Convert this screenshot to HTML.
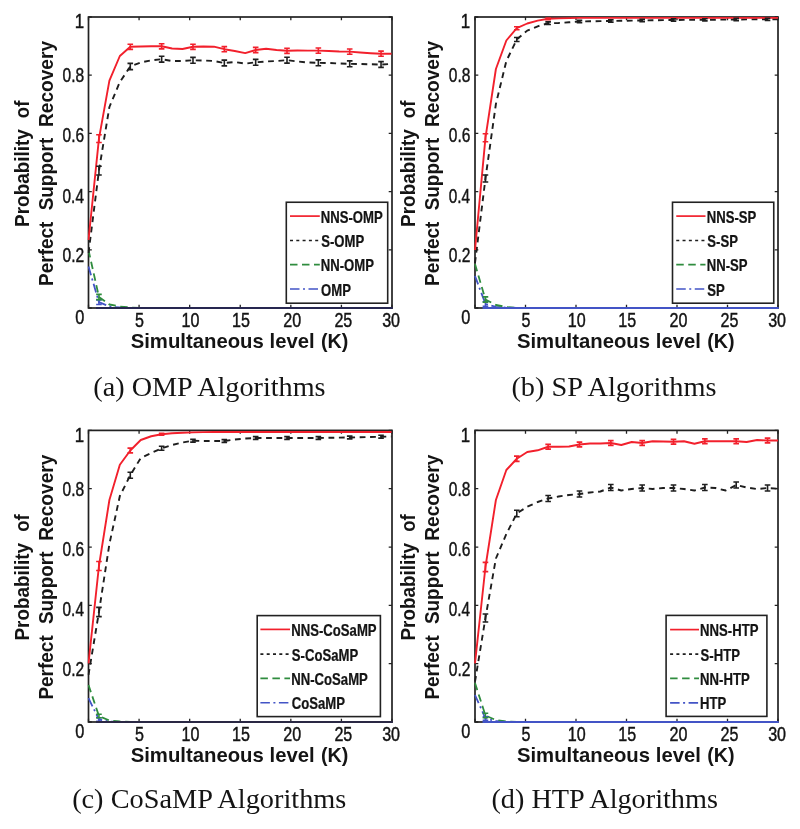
<!DOCTYPE html><html><head><meta charset="utf-8"><title>figure</title><style>html,body{margin:0;padding:0;background:#fff;overflow:hidden}svg{display:block;filter:blur(0.4px)}</style></head><body>
<svg width="800" height="829" viewBox="0 0 800 829">
<rect width="800" height="829" fill="#fff"/>
<rect x="88.5" y="17" width="303.5" height="291" fill="none" stroke="#222222" stroke-width="1.7"/>
<path d="M88.5,308v-3.3M88.5,17v3.3M139.08,308v-3.3M139.08,17v3.3M189.67,308v-3.3M189.67,17v3.3M240.25,308v-3.3M240.25,17v3.3M290.83,308v-3.3M290.83,17v3.3M341.42,308v-3.3M341.42,17v3.3M392,308v-3.3M392,17v3.3M88.5,308h3.3M392,308h-3.3M88.5,249.8h3.3M392,249.8h-3.3M88.5,191.6h3.3M392,191.6h-3.3M88.5,133.4h3.3M392,133.4h-3.3M88.5,75.2h3.3M392,75.2h-3.3M88.5,17h3.3M392,17h-3.3" stroke="#222222" stroke-width="1.3" fill="none"/>
<clipPath id="ca"><rect x="87.5" y="14" width="305.5" height="295"/></clipPath>
<g clip-path="url(#ca)" fill="none" stroke-linejoin="round">
<polyline points="88.5,266.5 98.95,302.2 109.4,306.5 119.84,307.5 130.29,308 140.74,308 151.19,308 161.64,308 172.08,308 182.53,308 192.98,308 203.43,308 213.88,308 224.32,308 234.77,308 245.22,308 255.67,308 266.12,308 276.56,308 287.01,308 297.46,308 307.91,308 318.36,308 328.8,308 339.25,308 349.7,308 360.15,308 370.6,308 381.04,308 391.49,308" stroke="#4354c6" stroke-width="1.8" stroke-dasharray="9 3.5 2 3.5"/>
<polyline points="88.5,250 98.95,297 109.4,304.5 119.84,306.5 130.29,307.5 140.74,308 151.19,308 161.64,308 172.08,308 182.53,308 192.98,308 203.43,308 213.88,308 224.32,308 234.77,308 245.22,308 255.67,308 266.12,308 276.56,308 287.01,308 297.46,308 307.91,308 318.36,308 328.8,308 339.25,308 349.7,308 360.15,308 370.6,308 381.04,308 391.49,308" stroke="#2f8c3e" stroke-width="1.8" stroke-dasharray="7.5 4.5"/>
<polyline points="88.5,253 98.95,170.6 109.4,107 119.84,82 130.29,66.5 140.74,62.5 151.19,60.3 161.64,59.2 172.08,61 182.53,61 192.98,60.3 203.43,60.5 213.88,61 224.32,63 234.77,62 245.22,63.7 255.67,62.3 266.12,61.5 276.56,61 287.01,60.2 297.46,61.5 307.91,62.5 318.36,62.8 328.8,63 339.25,63.5 349.7,63.8 360.15,64 370.6,64.3 381.04,64.5 391.49,64" stroke="#1e1e1e" stroke-width="1.9" stroke-dasharray="5.8 4.6"/>
<polyline points="88.5,240 98.95,138.6 109.4,80.6 119.84,56 130.29,46.8 140.74,46.5 151.19,46.2 161.64,46.3 172.08,48.5 182.53,49 192.98,46.8 203.43,46.5 213.88,46.7 224.32,49.2 234.77,51 245.22,53.1 255.67,50 266.12,48.8 276.56,50 287.01,50.8 297.46,50.5 307.91,50.6 318.36,50.6 328.8,51 339.25,51.5 349.7,51.6 360.15,52.5 370.6,53.2 381.04,53.7 391.49,53.7" stroke="#f2202c" stroke-width="1.9"/>
<path d="M98.95,299.9V304.5M96.15,299.9H101.75M96.15,304.5H101.75" stroke="#4354c6" stroke-width="1.6"/>
<path d="M98.95,294.4V299.6M96.15,294.4H101.75M96.15,299.6H101.75" stroke="#2f8c3e" stroke-width="1.6"/>
<path d="M98.95,166.2V175M96.15,166.2H101.75M96.15,175H101.75M130.29,63.4V69.6M127.49,63.4H133.09M127.49,69.6H133.09M161.64,56.3V62.1M158.84,56.3H164.44M158.84,62.1H164.44M192.98,57.4V63.2M190.18,57.4H195.78M190.18,63.2H195.78M224.32,60.1V65.9M221.52,60.1H227.12M221.52,65.9H227.12M255.67,59.4V65.2M252.87,59.4H258.47M252.87,65.2H258.47M287.01,57.3V63.1M284.21,57.3H289.81M284.21,63.1H289.81M318.36,59.9V65.7M315.56,59.9H321.16M315.56,65.7H321.16M349.7,60.9V66.7M346.9,60.9H352.5M346.9,66.7H352.5M381.04,61.6V67.4M378.24,61.6H383.84M378.24,67.4H383.84" stroke="#1e1e1e" stroke-width="1.6"/>
<path d="M98.95,134.7V142.5M96.15,134.7H101.75M96.15,142.5H101.75M130.29,44.2V49.4M127.49,44.2H133.09M127.49,49.4H133.09M161.64,43.7V48.9M158.84,43.7H164.44M158.84,48.9H164.44M192.98,44.2V49.4M190.18,44.2H195.78M190.18,49.4H195.78M224.32,46.6V51.8M221.52,46.6H227.12M221.52,51.8H227.12M255.67,47.4V52.6M252.87,47.4H258.47M252.87,52.6H258.47M287.01,48.2V53.4M284.21,48.2H289.81M284.21,53.4H289.81M318.36,48V53.2M315.56,48H321.16M315.56,53.2H321.16M349.7,49V54.2M346.9,49H352.5M346.9,54.2H352.5M381.04,51.1V56.3M378.24,51.1H383.84M378.24,56.3H383.84" stroke="#f2202c" stroke-width="1.6"/>
</g>
<line x1="96" y1="308" x2="392.8" y2="308" stroke="#262650" stroke-width="1.9"/>
<text transform="translate(74.63,28.3) scale(0.8274,1)" font-size="20.4" fill="#141414" stroke="#141414" stroke-width="0.45" style='font-family:"Liberation Sans",sans-serif'>1</text>
<text transform="translate(62.58,81.8) scale(0.7611,1)" font-size="20.4" fill="#141414" stroke="#141414" stroke-width="0.45" style='font-family:"Liberation Sans",sans-serif'>0.8</text>
<text transform="translate(62.58,141.9) scale(0.7611,1)" font-size="20.4" fill="#141414" stroke="#141414" stroke-width="0.45" style='font-family:"Liberation Sans",sans-serif'>0.6</text>
<text transform="translate(62.59,202.6) scale(0.7524,1)" font-size="20.4" fill="#141414" stroke="#141414" stroke-width="0.45" style='font-family:"Liberation Sans",sans-serif'>0.4</text>
<text transform="translate(62.58,262.4) scale(0.7655,1)" font-size="20.4" fill="#141414" stroke="#141414" stroke-width="0.45" style='font-family:"Liberation Sans",sans-serif'>0.2</text>
<text transform="translate(75.15,324.3) scale(0.8007,1)" font-size="20.4" fill="#141414" stroke="#141414" stroke-width="0.45" style='font-family:"Liberation Sans",sans-serif'>0</text>
<text transform="translate(135.01,327.2) scale(0.7900,1)" font-size="20.4" fill="#141414" stroke="#141414" stroke-width="0.45" style='font-family:"Liberation Sans",sans-serif'>5</text>
<text transform="translate(181.42,327.2) scale(0.7900,1)" font-size="20.4" fill="#141414" stroke="#141414" stroke-width="0.45" style='font-family:"Liberation Sans",sans-serif'>10</text>
<text transform="translate(232.02,327.2) scale(0.7900,1)" font-size="20.4" fill="#141414" stroke="#141414" stroke-width="0.45" style='font-family:"Liberation Sans",sans-serif'>15</text>
<text transform="translate(283.29,327.2) scale(0.7900,1)" font-size="20.4" fill="#141414" stroke="#141414" stroke-width="0.45" style='font-family:"Liberation Sans",sans-serif'>20</text>
<text transform="translate(334.39,327.2) scale(0.7900,1)" font-size="20.4" fill="#141414" stroke="#141414" stroke-width="0.45" style='font-family:"Liberation Sans",sans-serif'>25</text>
<text transform="translate(382.16,327.2) scale(0.7900,1)" font-size="20.4" fill="#141414" stroke="#141414" stroke-width="0.45" style='font-family:"Liberation Sans",sans-serif'>30</text>
<text transform="translate(130.69,348.3) scale(1.0054,1)" font-size="20.2" font-weight="bold" fill="#141414" style='font-family:"Liberation Sans",sans-serif'>Simultaneous</text>
<text transform="translate(269.58,348.3) scale(1.0043,1)" font-size="20.2" font-weight="bold" fill="#141414" style='font-family:"Liberation Sans",sans-serif'>level</text>
<text transform="translate(321.01,348.3) scale(0.9766,1)" font-size="20.2" font-weight="bold" fill="#141414" style='font-family:"Liberation Sans",sans-serif'>(K)</text>
<text transform="translate(29,226.88) rotate(-90) scale(0.9460,1)" font-size="20" font-weight="bold" fill="#141414" style='font-family:"Liberation Sans",sans-serif'>Probability</text>
<text transform="translate(29,118.14) rotate(-90) scale(0.9227,1)" font-size="20" font-weight="bold" fill="#141414" style='font-family:"Liberation Sans",sans-serif'>of</text>
<text transform="translate(53,285.88) rotate(-90) scale(0.9486,1)" font-size="20" font-weight="bold" fill="#141414" style='font-family:"Liberation Sans",sans-serif'>Perfect</text>
<text transform="translate(53,210.37) rotate(-90) scale(0.9472,1)" font-size="20" font-weight="bold" fill="#141414" style='font-family:"Liberation Sans",sans-serif'>Support</text>
<text transform="translate(53,126.99) rotate(-90) scale(0.9560,1)" font-size="20" font-weight="bold" fill="#141414" style='font-family:"Liberation Sans",sans-serif'>Recovery</text>
<text transform="translate(93.33,396) scale(0.9995,1)" font-size="28.2" fill="#141414" style='font-family:"Liberation Serif",serif'>(a) OMP Algorithms</text>
<rect x="475" y="17" width="303" height="291" fill="none" stroke="#222222" stroke-width="1.7"/>
<path d="M475,308v-3.3M475,17v3.3M525.5,308v-3.3M525.5,17v3.3M576,308v-3.3M576,17v3.3M626.5,308v-3.3M626.5,17v3.3M677,308v-3.3M677,17v3.3M727.5,308v-3.3M727.5,17v3.3M778,308v-3.3M778,17v3.3M475,308h3.3M778,308h-3.3M475,249.8h3.3M778,249.8h-3.3M475,191.6h3.3M778,191.6h-3.3M475,133.4h3.3M778,133.4h-3.3M475,75.2h3.3M778,75.2h-3.3M475,17h3.3M778,17h-3.3" stroke="#222222" stroke-width="1.3" fill="none"/>
<clipPath id="cb"><rect x="474" y="14" width="305" height="295"/></clipPath>
<g clip-path="url(#cb)" fill="none" stroke-linejoin="round">
<polyline points="475,276 485.45,304 495.9,306.8 506.34,307.6 516.79,308 527.24,308 537.69,308 548.14,308 558.58,308 569.03,308 579.48,308 589.93,308 600.38,308 610.82,308 621.27,308 631.72,308 642.17,308 652.62,308 663.06,308 673.51,308 683.96,308 694.41,308 704.86,308 715.3,308 725.75,308 736.2,308 746.65,308 757.1,308 767.54,308 777.99,308" stroke="#4354c6" stroke-width="1.8" stroke-dasharray="9 3.5 2 3.5"/>
<polyline points="475,264 485.45,299.5 495.9,305 506.34,307 516.79,308 527.24,308 537.69,308 548.14,308 558.58,308 569.03,308 579.48,308 589.93,308 600.38,308 610.82,308 621.27,308 631.72,308 642.17,308 652.62,308 663.06,308 673.51,308 683.96,308 694.41,308 704.86,308 715.3,308 725.75,308 736.2,308 746.65,308 757.1,308 767.54,308 777.99,308" stroke="#2f8c3e" stroke-width="1.8" stroke-dasharray="7.5 4.5"/>
<polyline points="475,263 485.45,178.5 495.9,104 506.34,61 516.79,39.5 527.24,30.6 537.69,26.3 548.14,23.2 558.58,23 569.03,22.3 579.48,21.5 589.93,21.3 600.38,21.1 610.82,21 621.27,20.8 631.72,20.6 642.17,20.5 652.62,20.3 663.06,20.1 673.51,20 683.96,19.9 694.41,19.8 704.86,19.8 715.3,19.7 725.75,19.6 736.2,19.5 746.65,19.4 757.1,19.3 767.54,19.3 777.99,19.2" stroke="#1e1e1e" stroke-width="1.9" stroke-dasharray="5.8 4.6"/>
<polyline points="475,250 485.45,137.8 495.9,69 506.34,40.5 516.79,28.2 527.24,23.5 537.69,20.6 548.14,18.8 558.58,18.4 569.03,18.1 579.48,17.9 589.93,17.9 600.38,17.9 610.82,17.9 621.27,17.9 631.72,17.9 642.17,17.9 652.62,17.9 663.06,17.9 673.51,17.9 683.96,17.9 694.41,17.9 704.86,17.9 715.3,17.9 725.75,17.9 736.2,17.9 746.65,17.9 757.1,17.9 767.54,17.9 777.99,17.9" stroke="#f2202c" stroke-width="1.9"/>
<path d="M485.45,301.8V306.2M482.65,301.8H488.25M482.65,306.2H488.25" stroke="#4354c6" stroke-width="1.6"/>
<path d="M485.45,296.9V302.1M482.65,296.9H488.25M482.65,302.1H488.25" stroke="#2f8c3e" stroke-width="1.6"/>
<path d="M485.45,175V182M482.65,175H488.25M482.65,182H488.25M516.79,37.5V41.5M513.99,37.5H519.59M513.99,41.5H519.59M548.14,21.9V24.5M545.34,21.9H550.94M545.34,24.5H550.94M579.48,20.4V22.6M576.68,20.4H582.28M576.68,22.6H582.28M610.82,19.9V22.1M608.02,19.9H613.62M608.02,22.1H613.62M642.17,19.4V21.6M639.37,19.4H644.97M639.37,21.6H644.97M673.51,18.9V21.1M670.71,18.9H676.31M670.71,21.1H676.31M704.86,18.7V20.9M702.06,18.7H707.66M702.06,20.9H707.66M736.2,18.4V20.6M733.4,18.4H739M733.4,20.6H739M767.54,18.2V20.4M764.74,18.2H770.34M764.74,20.4H770.34" stroke="#1e1e1e" stroke-width="1.6"/>
<path d="M485.45,133.8V141.8M482.65,133.8H488.25M482.65,141.8H488.25M516.79,26.7V29.7M513.99,26.7H519.59M513.99,29.7H519.59M548.14,18V19.6M545.34,18H550.94M545.34,19.6H550.94" stroke="#f2202c" stroke-width="1.6"/>
</g>
<line x1="482.5" y1="308" x2="778.8" y2="308" stroke="#4354c6" stroke-width="1.9"/>
<text transform="translate(460.83,28.3) scale(0.8274,1)" font-size="20.4" fill="#141414" stroke="#141414" stroke-width="0.45" style='font-family:"Liberation Sans",sans-serif'>1</text>
<text transform="translate(448.78,81.8) scale(0.7611,1)" font-size="20.4" fill="#141414" stroke="#141414" stroke-width="0.45" style='font-family:"Liberation Sans",sans-serif'>0.8</text>
<text transform="translate(448.78,141.9) scale(0.7611,1)" font-size="20.4" fill="#141414" stroke="#141414" stroke-width="0.45" style='font-family:"Liberation Sans",sans-serif'>0.6</text>
<text transform="translate(448.79,202.6) scale(0.7524,1)" font-size="20.4" fill="#141414" stroke="#141414" stroke-width="0.45" style='font-family:"Liberation Sans",sans-serif'>0.4</text>
<text transform="translate(448.78,262.4) scale(0.7655,1)" font-size="20.4" fill="#141414" stroke="#141414" stroke-width="0.45" style='font-family:"Liberation Sans",sans-serif'>0.2</text>
<text transform="translate(461.35,324.3) scale(0.8007,1)" font-size="20.4" fill="#141414" stroke="#141414" stroke-width="0.45" style='font-family:"Liberation Sans",sans-serif'>0</text>
<text transform="translate(521.43,327.2) scale(0.7900,1)" font-size="20.4" fill="#141414" stroke="#141414" stroke-width="0.45" style='font-family:"Liberation Sans",sans-serif'>5</text>
<text transform="translate(567.75,327.2) scale(0.7900,1)" font-size="20.4" fill="#141414" stroke="#141414" stroke-width="0.45" style='font-family:"Liberation Sans",sans-serif'>10</text>
<text transform="translate(618.27,327.2) scale(0.7900,1)" font-size="20.4" fill="#141414" stroke="#141414" stroke-width="0.45" style='font-family:"Liberation Sans",sans-serif'>15</text>
<text transform="translate(669.45,327.2) scale(0.7900,1)" font-size="20.4" fill="#141414" stroke="#141414" stroke-width="0.45" style='font-family:"Liberation Sans",sans-serif'>20</text>
<text transform="translate(720.48,327.2) scale(0.7900,1)" font-size="20.4" fill="#141414" stroke="#141414" stroke-width="0.45" style='font-family:"Liberation Sans",sans-serif'>25</text>
<text transform="translate(768.16,327.2) scale(0.7900,1)" font-size="20.4" fill="#141414" stroke="#141414" stroke-width="0.45" style='font-family:"Liberation Sans",sans-serif'>30</text>
<text transform="translate(516.89,348.3) scale(1.0054,1)" font-size="20.2" font-weight="bold" fill="#141414" style='font-family:"Liberation Sans",sans-serif'>Simultaneous</text>
<text transform="translate(655.78,348.3) scale(1.0043,1)" font-size="20.2" font-weight="bold" fill="#141414" style='font-family:"Liberation Sans",sans-serif'>level</text>
<text transform="translate(707.21,348.3) scale(0.9766,1)" font-size="20.2" font-weight="bold" fill="#141414" style='font-family:"Liberation Sans",sans-serif'>(K)</text>
<text transform="translate(415.2,226.88) rotate(-90) scale(0.9460,1)" font-size="20" font-weight="bold" fill="#141414" style='font-family:"Liberation Sans",sans-serif'>Probability</text>
<text transform="translate(415.2,118.14) rotate(-90) scale(0.9227,1)" font-size="20" font-weight="bold" fill="#141414" style='font-family:"Liberation Sans",sans-serif'>of</text>
<text transform="translate(439.2,285.88) rotate(-90) scale(0.9486,1)" font-size="20" font-weight="bold" fill="#141414" style='font-family:"Liberation Sans",sans-serif'>Perfect</text>
<text transform="translate(439.2,210.37) rotate(-90) scale(0.9472,1)" font-size="20" font-weight="bold" fill="#141414" style='font-family:"Liberation Sans",sans-serif'>Support</text>
<text transform="translate(439.2,126.99) rotate(-90) scale(0.9560,1)" font-size="20" font-weight="bold" fill="#141414" style='font-family:"Liberation Sans",sans-serif'>Recovery</text>
<text transform="translate(511.43,396) scale(1.0044,1)" font-size="28.2" fill="#141414" style='font-family:"Liberation Serif",serif'>(b) SP Algorithms</text>
<rect x="88.5" y="430.4" width="303.5" height="291.6" fill="none" stroke="#222222" stroke-width="1.7"/>
<path d="M88.5,722v-3.3M88.5,430.4v3.3M139.08,722v-3.3M139.08,430.4v3.3M189.67,722v-3.3M189.67,430.4v3.3M240.25,722v-3.3M240.25,430.4v3.3M290.83,722v-3.3M290.83,430.4v3.3M341.42,722v-3.3M341.42,430.4v3.3M392,722v-3.3M392,430.4v3.3M88.5,722h3.3M392,722h-3.3M88.5,663.68h3.3M392,663.68h-3.3M88.5,605.36h3.3M392,605.36h-3.3M88.5,547.04h3.3M392,547.04h-3.3M88.5,488.72h3.3M392,488.72h-3.3M88.5,430.4h3.3M392,430.4h-3.3" stroke="#222222" stroke-width="1.3" fill="none"/>
<clipPath id="cc"><rect x="87.5" y="427.4" width="305.5" height="295.6"/></clipPath>
<g clip-path="url(#cc)" fill="none" stroke-linejoin="round">
<polyline points="88.5,698.2 98.95,719.5 109.4,721.5 119.84,721.8 130.29,722 140.74,722 151.19,722 161.64,722 172.08,722 182.53,722 192.98,722 203.43,722 213.88,722 224.32,722 234.77,722 245.22,722 255.67,722 266.12,722 276.56,722 287.01,722 297.46,722 307.91,722 318.36,722 328.8,722 339.25,722 349.7,722 360.15,722 370.6,722 381.04,722 391.49,722" stroke="#4354c6" stroke-width="1.8" stroke-dasharray="9 3.5 2 3.5"/>
<polyline points="88.5,685 98.95,716 109.4,720.5 119.84,721.5 130.29,722 140.74,722 151.19,722 161.64,722 172.08,722 182.53,722 192.98,722 203.43,722 213.88,722 224.32,722 234.77,722 245.22,722 255.67,722 266.12,722 276.56,722 287.01,722 297.46,722 307.91,722 318.36,722 328.8,722 339.25,722 349.7,722 360.15,722 370.6,722 381.04,722 391.49,722" stroke="#2f8c3e" stroke-width="1.8" stroke-dasharray="7.5 4.5"/>
<polyline points="88.5,674.8 98.95,612 109.4,544 119.84,496 130.29,475.25 140.74,458 151.19,453 161.64,448.25 172.08,445 182.53,442.5 192.98,440.75 203.43,441 213.88,441 224.32,441 234.77,439.5 245.22,438.5 255.67,438 266.12,438 276.56,438 287.01,438 297.46,438 307.91,438 318.36,438 328.8,437.8 339.25,437.6 349.7,437.5 360.15,437.2 370.6,437 381.04,436.7 391.49,436.5" stroke="#1e1e1e" stroke-width="1.9" stroke-dasharray="5.8 4.6"/>
<polyline points="88.5,663.4 98.95,566 109.4,500 119.84,464.75 130.29,450.5 140.74,440 151.19,436.25 161.64,434.3 172.08,433.3 182.53,432.8 192.98,432.4 203.43,432.1 213.88,432 224.32,432 234.77,432 245.22,432 255.67,432 266.12,432 276.56,432 287.01,432 297.46,432 307.91,432 318.36,432 328.8,432 339.25,432 349.7,432 360.15,432 370.6,432 381.04,432 391.49,432" stroke="#f2202c" stroke-width="1.9"/>
<path d="M98.95,717.7V721.3M96.15,717.7H101.75M96.15,721.3H101.75" stroke="#4354c6" stroke-width="1.6"/>
<path d="M98.95,714.2V717.8M96.15,714.2H101.75M96.15,717.8H101.75" stroke="#2f8c3e" stroke-width="1.6"/>
<path d="M98.95,607.4V616.6M96.15,607.4H101.75M96.15,616.6H101.75M130.29,472.25V478.25M127.49,472.25H133.09M127.49,478.25H133.09M161.64,446.25V450.25M158.84,446.25H164.44M158.84,450.25H164.44M192.98,439.35V442.15M190.18,439.35H195.78M190.18,442.15H195.78M224.32,439.6V442.4M221.52,439.6H227.12M221.52,442.4H227.12M255.67,436.6V439.4M252.87,436.6H258.47M252.87,439.4H258.47M287.01,436.6V439.4M284.21,436.6H289.81M284.21,439.4H289.81M318.36,436.6V439.4M315.56,436.6H321.16M315.56,439.4H321.16M349.7,436.1V438.9M346.9,436.1H352.5M346.9,438.9H352.5M381.04,435.3V438.1M378.24,435.3H383.84M378.24,438.1H383.84" stroke="#1e1e1e" stroke-width="1.6"/>
<path d="M98.95,561.5V570.5M96.15,561.5H101.75M96.15,570.5H101.75M130.29,448.1V452.9M127.49,448.1H133.09M127.49,452.9H133.09M161.64,433.3V435.3M158.84,433.3H164.44M158.84,435.3H164.44" stroke="#f2202c" stroke-width="1.6"/>
</g>
<line x1="96" y1="722" x2="392.8" y2="722" stroke="#2a2844" stroke-width="1.9"/>
<text transform="translate(74.63,442) scale(0.8274,1)" font-size="20.4" fill="#141414" stroke="#141414" stroke-width="0.45" style='font-family:"Liberation Sans",sans-serif'>1</text>
<text transform="translate(62.58,495.5) scale(0.7611,1)" font-size="20.4" fill="#141414" stroke="#141414" stroke-width="0.45" style='font-family:"Liberation Sans",sans-serif'>0.8</text>
<text transform="translate(62.58,555.6) scale(0.7611,1)" font-size="20.4" fill="#141414" stroke="#141414" stroke-width="0.45" style='font-family:"Liberation Sans",sans-serif'>0.6</text>
<text transform="translate(62.59,616.3) scale(0.7524,1)" font-size="20.4" fill="#141414" stroke="#141414" stroke-width="0.45" style='font-family:"Liberation Sans",sans-serif'>0.4</text>
<text transform="translate(62.58,676.1) scale(0.7655,1)" font-size="20.4" fill="#141414" stroke="#141414" stroke-width="0.45" style='font-family:"Liberation Sans",sans-serif'>0.2</text>
<text transform="translate(75.15,738) scale(0.8007,1)" font-size="20.4" fill="#141414" stroke="#141414" stroke-width="0.45" style='font-family:"Liberation Sans",sans-serif'>0</text>
<text transform="translate(135.01,741.2) scale(0.7900,1)" font-size="20.4" fill="#141414" stroke="#141414" stroke-width="0.45" style='font-family:"Liberation Sans",sans-serif'>5</text>
<text transform="translate(181.42,741.2) scale(0.7900,1)" font-size="20.4" fill="#141414" stroke="#141414" stroke-width="0.45" style='font-family:"Liberation Sans",sans-serif'>10</text>
<text transform="translate(232.02,741.2) scale(0.7900,1)" font-size="20.4" fill="#141414" stroke="#141414" stroke-width="0.45" style='font-family:"Liberation Sans",sans-serif'>15</text>
<text transform="translate(283.29,741.2) scale(0.7900,1)" font-size="20.4" fill="#141414" stroke="#141414" stroke-width="0.45" style='font-family:"Liberation Sans",sans-serif'>20</text>
<text transform="translate(334.39,741.2) scale(0.7900,1)" font-size="20.4" fill="#141414" stroke="#141414" stroke-width="0.45" style='font-family:"Liberation Sans",sans-serif'>25</text>
<text transform="translate(382.16,741.2) scale(0.7900,1)" font-size="20.4" fill="#141414" stroke="#141414" stroke-width="0.45" style='font-family:"Liberation Sans",sans-serif'>30</text>
<text transform="translate(130.69,762) scale(1.0054,1)" font-size="20.2" font-weight="bold" fill="#141414" style='font-family:"Liberation Sans",sans-serif'>Simultaneous</text>
<text transform="translate(269.58,762) scale(1.0043,1)" font-size="20.2" font-weight="bold" fill="#141414" style='font-family:"Liberation Sans",sans-serif'>level</text>
<text transform="translate(321.01,762) scale(0.9766,1)" font-size="20.2" font-weight="bold" fill="#141414" style='font-family:"Liberation Sans",sans-serif'>(K)</text>
<text transform="translate(29,640.58) rotate(-90) scale(0.9460,1)" font-size="20" font-weight="bold" fill="#141414" style='font-family:"Liberation Sans",sans-serif'>Probability</text>
<text transform="translate(29,531.84) rotate(-90) scale(0.9227,1)" font-size="20" font-weight="bold" fill="#141414" style='font-family:"Liberation Sans",sans-serif'>of</text>
<text transform="translate(53,699.58) rotate(-90) scale(0.9486,1)" font-size="20" font-weight="bold" fill="#141414" style='font-family:"Liberation Sans",sans-serif'>Perfect</text>
<text transform="translate(53,624.07) rotate(-90) scale(0.9472,1)" font-size="20" font-weight="bold" fill="#141414" style='font-family:"Liberation Sans",sans-serif'>Support</text>
<text transform="translate(53,540.69) rotate(-90) scale(0.9560,1)" font-size="20" font-weight="bold" fill="#141414" style='font-family:"Liberation Sans",sans-serif'>Recovery</text>
<text transform="translate(72.13,808) scale(1.0042,1)" font-size="28.2" fill="#141414" style='font-family:"Liberation Serif",serif'>(c) CoSaMP Algorithms</text>
<rect x="475" y="430.4" width="303" height="291.6" fill="none" stroke="#222222" stroke-width="1.7"/>
<path d="M475,722v-3.3M475,430.4v3.3M525.5,722v-3.3M525.5,430.4v3.3M576,722v-3.3M576,430.4v3.3M626.5,722v-3.3M626.5,430.4v3.3M677,722v-3.3M677,430.4v3.3M727.5,722v-3.3M727.5,430.4v3.3M778,722v-3.3M778,430.4v3.3M475,722h3.3M778,722h-3.3M475,663.68h3.3M778,663.68h-3.3M475,605.36h3.3M778,605.36h-3.3M475,547.04h3.3M778,547.04h-3.3M475,488.72h3.3M778,488.72h-3.3M475,430.4h3.3M778,430.4h-3.3" stroke="#222222" stroke-width="1.3" fill="none"/>
<clipPath id="cd"><rect x="474" y="427.4" width="305" height="295.6"/></clipPath>
<g clip-path="url(#cd)" fill="none" stroke-linejoin="round">
<polyline points="475,695 485.45,718.5 495.9,721 506.34,721.8 516.79,722 527.24,722 537.69,722 548.14,722 558.58,722 569.03,722 579.48,722 589.93,722 600.38,722 610.82,722 621.27,722 631.72,722 642.17,722 652.62,722 663.06,722 673.51,722 683.96,722 694.41,722 704.86,722 715.3,722 725.75,722 736.2,722 746.65,722 757.1,722 767.54,722 777.99,722" stroke="#4354c6" stroke-width="1.8" stroke-dasharray="9 3.5 2 3.5"/>
<polyline points="475,683 485.45,715.5 495.9,720 506.34,721.5 516.79,722 527.24,722 537.69,722 548.14,722 558.58,722 569.03,722 579.48,722 589.93,722 600.38,722 610.82,722 621.27,722 631.72,722 642.17,722 652.62,722 663.06,722 673.51,722 683.96,722 694.41,722 704.86,722 715.3,722 725.75,722 736.2,722 746.65,722 757.1,722 767.54,722 777.99,722" stroke="#2f8c3e" stroke-width="1.8" stroke-dasharray="7.5 4.5"/>
<polyline points="475,681.7 485.45,618 495.9,558.5 506.34,534 516.79,513.5 527.24,506.75 537.69,502 548.14,498.5 558.58,496.5 569.03,495 579.48,494 589.93,492.5 600.38,491.5 610.82,487.5 621.27,490.5 631.72,489 642.17,488 652.62,489 663.06,488 673.51,488 683.96,489 694.41,490.5 704.86,487.5 715.3,488 725.75,490.5 736.2,485 746.65,487.5 757.1,489 767.54,488 777.99,488.75" stroke="#1e1e1e" stroke-width="1.9" stroke-dasharray="5.8 4.6"/>
<polyline points="475,663.3 485.45,567 495.9,500 506.34,470 516.79,458.75 527.24,452 537.69,450.3 548.14,446.75 558.58,446.75 569.03,446.5 579.48,444.5 589.93,443.5 600.38,443.5 610.82,443 621.27,445 631.72,442 642.17,443 652.62,441.25 663.06,441.5 673.51,441.75 683.96,441.25 694.41,443.75 704.86,441.25 715.3,441.25 725.75,441.25 736.2,441.25 746.65,442 757.1,440 767.54,440.5 777.99,440.5" stroke="#f2202c" stroke-width="1.9"/>
<path d="M485.45,716.7V720.3M482.65,716.7H488.25M482.65,720.3H488.25" stroke="#4354c6" stroke-width="1.6"/>
<path d="M485.45,713.3V717.7M482.65,713.3H488.25M482.65,717.7H488.25" stroke="#2f8c3e" stroke-width="1.6"/>
<path d="M485.45,614V622M482.65,614H488.25M482.65,622H488.25M516.79,510.3V516.7M513.99,510.3H519.59M513.99,516.7H519.59M548.14,495.5V501.5M545.34,495.5H550.94M545.34,501.5H550.94M579.48,491V497M576.68,491H582.28M576.68,497H582.28M610.82,484.5V490.5M608.02,484.5H613.62M608.02,490.5H613.62M642.17,485V491M639.37,485H644.97M639.37,491H644.97M673.51,485V491M670.71,485H676.31M670.71,491H676.31M704.86,484.5V490.5M702.06,484.5H707.66M702.06,490.5H707.66M736.2,482V488M733.4,482H739M733.4,488H739M767.54,485V491M764.74,485H770.34M764.74,491H770.34" stroke="#1e1e1e" stroke-width="1.6"/>
<path d="M485.45,562.4V571.6M482.65,562.4H488.25M482.65,571.6H488.25M516.79,456.15V461.35M513.99,456.15H519.59M513.99,461.35H519.59M548.14,444.35V449.15M545.34,444.35H550.94M545.34,449.15H550.94M579.48,442.1V446.9M576.68,442.1H582.28M576.68,446.9H582.28M610.82,440.6V445.4M608.02,440.6H613.62M608.02,445.4H613.62M642.17,440.6V445.4M639.37,440.6H644.97M639.37,445.4H644.97M673.51,439.35V444.15M670.71,439.35H676.31M670.71,444.15H676.31M704.86,438.85V443.65M702.06,438.85H707.66M702.06,443.65H707.66M736.2,438.85V443.65M733.4,438.85H739M733.4,443.65H739M767.54,438.1V442.9M764.74,438.1H770.34M764.74,442.9H770.34" stroke="#f2202c" stroke-width="1.6"/>
</g>
<line x1="482.5" y1="722" x2="778.8" y2="722" stroke="#4354c6" stroke-width="1.9"/>
<text transform="translate(460.83,442) scale(0.8274,1)" font-size="20.4" fill="#141414" stroke="#141414" stroke-width="0.45" style='font-family:"Liberation Sans",sans-serif'>1</text>
<text transform="translate(448.78,495.5) scale(0.7611,1)" font-size="20.4" fill="#141414" stroke="#141414" stroke-width="0.45" style='font-family:"Liberation Sans",sans-serif'>0.8</text>
<text transform="translate(448.78,555.6) scale(0.7611,1)" font-size="20.4" fill="#141414" stroke="#141414" stroke-width="0.45" style='font-family:"Liberation Sans",sans-serif'>0.6</text>
<text transform="translate(448.79,616.3) scale(0.7524,1)" font-size="20.4" fill="#141414" stroke="#141414" stroke-width="0.45" style='font-family:"Liberation Sans",sans-serif'>0.4</text>
<text transform="translate(448.78,676.1) scale(0.7655,1)" font-size="20.4" fill="#141414" stroke="#141414" stroke-width="0.45" style='font-family:"Liberation Sans",sans-serif'>0.2</text>
<text transform="translate(461.35,738) scale(0.8007,1)" font-size="20.4" fill="#141414" stroke="#141414" stroke-width="0.45" style='font-family:"Liberation Sans",sans-serif'>0</text>
<text transform="translate(521.43,741.2) scale(0.7900,1)" font-size="20.4" fill="#141414" stroke="#141414" stroke-width="0.45" style='font-family:"Liberation Sans",sans-serif'>5</text>
<text transform="translate(567.75,741.2) scale(0.7900,1)" font-size="20.4" fill="#141414" stroke="#141414" stroke-width="0.45" style='font-family:"Liberation Sans",sans-serif'>10</text>
<text transform="translate(618.27,741.2) scale(0.7900,1)" font-size="20.4" fill="#141414" stroke="#141414" stroke-width="0.45" style='font-family:"Liberation Sans",sans-serif'>15</text>
<text transform="translate(669.45,741.2) scale(0.7900,1)" font-size="20.4" fill="#141414" stroke="#141414" stroke-width="0.45" style='font-family:"Liberation Sans",sans-serif'>20</text>
<text transform="translate(720.48,741.2) scale(0.7900,1)" font-size="20.4" fill="#141414" stroke="#141414" stroke-width="0.45" style='font-family:"Liberation Sans",sans-serif'>25</text>
<text transform="translate(768.16,741.2) scale(0.7900,1)" font-size="20.4" fill="#141414" stroke="#141414" stroke-width="0.45" style='font-family:"Liberation Sans",sans-serif'>30</text>
<text transform="translate(516.89,762) scale(1.0054,1)" font-size="20.2" font-weight="bold" fill="#141414" style='font-family:"Liberation Sans",sans-serif'>Simultaneous</text>
<text transform="translate(655.78,762) scale(1.0043,1)" font-size="20.2" font-weight="bold" fill="#141414" style='font-family:"Liberation Sans",sans-serif'>level</text>
<text transform="translate(707.21,762) scale(0.9766,1)" font-size="20.2" font-weight="bold" fill="#141414" style='font-family:"Liberation Sans",sans-serif'>(K)</text>
<text transform="translate(415.2,640.58) rotate(-90) scale(0.9460,1)" font-size="20" font-weight="bold" fill="#141414" style='font-family:"Liberation Sans",sans-serif'>Probability</text>
<text transform="translate(415.2,531.84) rotate(-90) scale(0.9227,1)" font-size="20" font-weight="bold" fill="#141414" style='font-family:"Liberation Sans",sans-serif'>of</text>
<text transform="translate(439.2,699.58) rotate(-90) scale(0.9486,1)" font-size="20" font-weight="bold" fill="#141414" style='font-family:"Liberation Sans",sans-serif'>Perfect</text>
<text transform="translate(439.2,624.07) rotate(-90) scale(0.9472,1)" font-size="20" font-weight="bold" fill="#141414" style='font-family:"Liberation Sans",sans-serif'>Support</text>
<text transform="translate(439.2,540.69) rotate(-90) scale(0.9560,1)" font-size="20" font-weight="bold" fill="#141414" style='font-family:"Liberation Sans",sans-serif'>Recovery</text>
<text transform="translate(491.43,808) scale(1.0021,1)" font-size="28.2" fill="#141414" style='font-family:"Liberation Serif",serif'>(d) HTP Algorithms</text>
<rect x="286.3" y="202.25" width="101.4" height="100.95" fill="#fff" stroke="#222222" stroke-width="1.6"/>
<line x1="290" y1="216.1" x2="319.8" y2="216.1" stroke="#f2202c" stroke-width="1.7"/>
<text transform="translate(320.71,222.6) scale(0.8100,1)" font-size="16.2" font-weight="bold" fill="#141414" stroke="#141414" stroke-width="0.25" style='font-family:"Liberation Sans",sans-serif'>NNS-OMP</text>
<line x1="290" y1="240.5" x2="319.8" y2="240.5" stroke="#1e1e1e" stroke-width="1.7" stroke-dasharray="3 3.3"/>
<text transform="translate(321.21,247) scale(0.8100,1)" font-size="16.2" font-weight="bold" fill="#141414" stroke="#141414" stroke-width="0.25" style='font-family:"Liberation Sans",sans-serif'>S-OMP</text>
<line x1="290" y1="264.6" x2="319.8" y2="264.6" stroke="#2f8c3e" stroke-width="1.7" stroke-dasharray="7.5 4.5"/>
<text transform="translate(320.71,271.1) scale(0.8100,1)" font-size="16.2" font-weight="bold" fill="#141414" stroke="#141414" stroke-width="0.25" style='font-family:"Liberation Sans",sans-serif'>NN-OMP</text>
<line x1="290" y1="289" x2="319.8" y2="289" stroke="#4354c6" stroke-width="1.7" stroke-dasharray="9.5 3.5 2 3.5"/>
<text transform="translate(321.08,295.5) scale(0.8100,1)" font-size="16.2" font-weight="bold" fill="#141414" stroke="#141414" stroke-width="0.25" style='font-family:"Liberation Sans",sans-serif'>OMP</text>
<rect x="672.5" y="202.25" width="101.25" height="100.95" fill="#fff" stroke="#222222" stroke-width="1.6"/>
<line x1="676.25" y1="216.1" x2="705.5" y2="216.1" stroke="#f2202c" stroke-width="1.7"/>
<text transform="translate(706.81,222.6) scale(0.8100,1)" font-size="16.2" font-weight="bold" fill="#141414" stroke="#141414" stroke-width="0.25" style='font-family:"Liberation Sans",sans-serif'>NNS-SP</text>
<line x1="676.25" y1="240.5" x2="705.5" y2="240.5" stroke="#1e1e1e" stroke-width="1.7" stroke-dasharray="3 3.3"/>
<text transform="translate(707.31,247) scale(0.8100,1)" font-size="16.2" font-weight="bold" fill="#141414" stroke="#141414" stroke-width="0.25" style='font-family:"Liberation Sans",sans-serif'>S-SP</text>
<line x1="676.25" y1="264.6" x2="705.5" y2="264.6" stroke="#2f8c3e" stroke-width="1.7" stroke-dasharray="7.5 4.5"/>
<text transform="translate(706.81,271.1) scale(0.8100,1)" font-size="16.2" font-weight="bold" fill="#141414" stroke="#141414" stroke-width="0.25" style='font-family:"Liberation Sans",sans-serif'>NN-SP</text>
<line x1="676.25" y1="289" x2="705.5" y2="289" stroke="#4354c6" stroke-width="1.7" stroke-dasharray="9.5 3.5 2 3.5"/>
<text transform="translate(707.31,295.5) scale(0.8100,1)" font-size="16.2" font-weight="bold" fill="#141414" stroke="#141414" stroke-width="0.25" style='font-family:"Liberation Sans",sans-serif'>SP</text>
<rect x="257.2" y="615.6" width="123.2" height="101" fill="#fff" stroke="#222222" stroke-width="1.6"/>
<line x1="260.4" y1="629.4" x2="290" y2="629.4" stroke="#f2202c" stroke-width="1.7"/>
<text transform="translate(291.31,635.9) scale(0.8100,1)" font-size="16.2" font-weight="bold" fill="#141414" stroke="#141414" stroke-width="0.25" style='font-family:"Liberation Sans",sans-serif'>NNS-CoSaMP</text>
<line x1="260.4" y1="654.2" x2="290" y2="654.2" stroke="#1e1e1e" stroke-width="1.7" stroke-dasharray="3 3.3"/>
<text transform="translate(291.81,660.7) scale(0.8100,1)" font-size="16.2" font-weight="bold" fill="#141414" stroke="#141414" stroke-width="0.25" style='font-family:"Liberation Sans",sans-serif'>S-CoSaMP</text>
<line x1="260.4" y1="678.4" x2="290" y2="678.4" stroke="#2f8c3e" stroke-width="1.7" stroke-dasharray="7.5 4.5"/>
<text transform="translate(291.31,684.9) scale(0.8100,1)" font-size="16.2" font-weight="bold" fill="#141414" stroke="#141414" stroke-width="0.25" style='font-family:"Liberation Sans",sans-serif'>NN-CoSaMP</text>
<line x1="260.4" y1="702.75" x2="290" y2="702.75" stroke="#4354c6" stroke-width="1.7" stroke-dasharray="9.5 3.5 2 3.5"/>
<text transform="translate(291.68,709.25) scale(0.8100,1)" font-size="16.2" font-weight="bold" fill="#141414" stroke="#141414" stroke-width="0.25" style='font-family:"Liberation Sans",sans-serif'>CoSaMP</text>
<rect x="666.1" y="615.4" width="100.8" height="101" fill="#fff" stroke="#222222" stroke-width="1.6"/>
<line x1="670.1" y1="629.6" x2="699" y2="629.6" stroke="#f2202c" stroke-width="1.7"/>
<text transform="translate(700.11,636.1) scale(0.8100,1)" font-size="16.2" font-weight="bold" fill="#141414" stroke="#141414" stroke-width="0.25" style='font-family:"Liberation Sans",sans-serif'>NNS-HTP</text>
<line x1="670.1" y1="654.2" x2="699" y2="654.2" stroke="#1e1e1e" stroke-width="1.7" stroke-dasharray="3 3.3"/>
<text transform="translate(700.61,660.7) scale(0.8100,1)" font-size="16.2" font-weight="bold" fill="#141414" stroke="#141414" stroke-width="0.25" style='font-family:"Liberation Sans",sans-serif'>S-HTP</text>
<line x1="670.1" y1="678.4" x2="699" y2="678.4" stroke="#2f8c3e" stroke-width="1.7" stroke-dasharray="7.5 4.5"/>
<text transform="translate(700.11,684.9) scale(0.8100,1)" font-size="16.2" font-weight="bold" fill="#141414" stroke="#141414" stroke-width="0.25" style='font-family:"Liberation Sans",sans-serif'>NN-HTP</text>
<line x1="670.1" y1="702.9" x2="699" y2="702.9" stroke="#4354c6" stroke-width="1.7" stroke-dasharray="9.5 3.5 2 3.5"/>
<text transform="translate(700.11,709.4) scale(0.8100,1)" font-size="16.2" font-weight="bold" fill="#141414" stroke="#141414" stroke-width="0.25" style='font-family:"Liberation Sans",sans-serif'>HTP</text>
</svg></body></html>
